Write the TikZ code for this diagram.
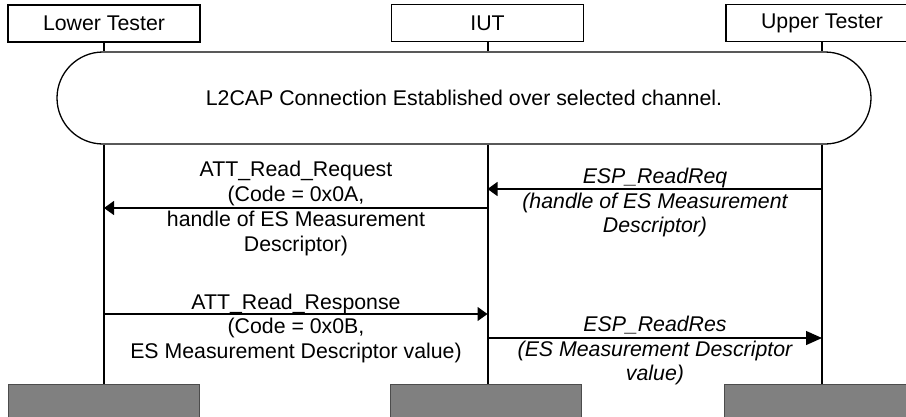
\documentclass[tikz,border=0pt]{standalone}
\usepackage{fontspec}
\setmainfont{Liberation Sans}
\usetikzlibrary{arrows.meta}
\begin{document}
\begin{tikzpicture}[x=1pt,y=-1pt,
  hdr/.style={draw,line width=1.2pt,minimum width=192pt,minimum height=37pt,inner sep=0pt,font=\fontsize{21.3}{25}\selectfont},
  life/.style={line width=2pt},
  msg/.style={line width=1.3pt,-{Triangle[length=10pt,width=14pt]}},
  bigmsg/.style={line width=1.3pt,-{Triangle[length=16pt,width=14pt]}},
  lbl/.style={align=center,font=\fontsize{21.3}{24.7}\selectfont,inner sep=0pt,anchor=base},
  ilbl/.style={align=center,font=\fontsize{21.3}{24.3}\selectfont\itshape,inner sep=0pt,anchor=base},
  endbox/.style={draw=black!70,fill=black!50,line width=1pt,minimum width=191pt,minimum height=40pt,anchor=north,inner sep=0pt}]
\useasboundingbox (0,0) rectangle (906,416);
% headers
\node[hdr] (lt) at (104,23.5) {Lower Tester};
\node[hdr] (iut) at (487.5,23) {IUT};
\node[hdr] (ut) at (822,23) {Upper Tester};
% connection
\node[draw,line width=1.3pt,rounded corners=46pt,minimum width=814pt,minimum height=92pt,fill=white,font=\fontsize{21.3}{25}\selectfont] (conn) at (464,98) {L2CAP Connection Established over selected channel.};
\draw[life] (lt.south) -- (lt.south |- conn.north);
\draw[life] (iut.south) -- (iut.south |- conn.north);
\draw[life] (ut.south) -- (ut.south |- conn.north);
% end boxes
\node[endbox] (lgb) at (103.5,384) {};
\node[endbox] (igb) at (486,384) {};
\node[endbox] (ugb) at (820,384) {};
% lifelines
\draw[life] (lt.south |- conn.south) -- (lt.south |- lgb.north);
\draw[life] (iut.south |- conn.south) -- (iut.south |- igb.north);
\draw[life] (ut.south |- conn.south) -- (ut.south |- ugb.north);
% message coordinates
\coordinate (a1) at (iut.south |- 0,208);
\coordinate (a2) at (lt.south |- 0,208);
\coordinate (b1) at (ut.south |- 0,189);
\coordinate (b2) at (iut.south |- 0,189);
\coordinate (c1) at (lt.south |- 0,314);
\coordinate (c2) at (iut.south |- 0,314);
\coordinate (d1) at (iut.south |- 0,338);
\coordinate (d2) at (ut.south |- 0,338);
\draw[msg] (b1) -- (b2);
\draw[msg] (a1) -- (a2);
\draw[msg] (c1) -- (c2);
\draw[bigmsg] (d1) -- (d2);
% labels (anchored at the baseline of the last line)
\node[lbl] (l1) at (296,251) {ATT\_Read\_Request\\(Code = 0x0A,\\handle of ES Measurement\\Descriptor)};
\node[ilbl] (l2) at (655,232.5) {ESP\_ReadReq\\(handle of ES Measurement\\Descriptor)};
\node[lbl] (l3) at (296,358.5) {ATT\_Read\_Response\\(Code = 0x0B,\\ES Measurement Descriptor value)};
\node[ilbl] (l4) at (655,380.5) {ESP\_ReadRes\\(ES Measurement Descriptor\\value)};
\end{tikzpicture}
\end{document}
